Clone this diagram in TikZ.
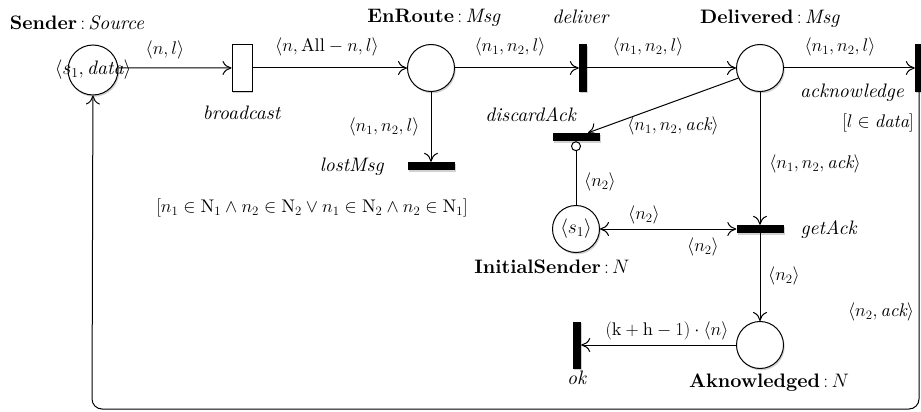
\RequirePackage{fix-cm}
\documentclass[tikz,border=0pt]{standalone}
\usepackage{amsmath,amssymb}
\usepackage{fontspec}
\setmainfont{lmroman10-regular.otf}[BoldFont=lmroman10-bold.otf,ItalicFont=lmroman10-italic.otf,BoldItalicFont=lmroman10-bolditalic.otf]
\usetikzlibrary{arrows.meta,shadows}
\begin{document}
\begin{tikzpicture}[x=1pt,y=-1pt,
  every node/.style={font=\fontsize{19.5}{23}\selectfont},
  shd/.style={drop shadow={shadow xshift=1.2pt,shadow yshift=-1.8pt,opacity=0.18,fill=black}},
  place/.style={circle,draw,line width=1pt,minimum size=47pt,inner sep=0pt,fill=white,shd},
  trans/.style={rectangle,fill=black,inner sep=0pt,shd},
  vbar/.style={trans,minimum width=8pt,minimum height=47pt},
  hbar/.style={trans,minimum width=47pt,minimum height=8pt},
  arc/.style={-{To[length=9pt,width=14pt]},line width=1pt},
  lbl/.style={inner sep=1pt},
  mlbl/.style={inner sep=1pt,font=\fontsize{18.3}{22}\selectfont}]
\useasboundingbox (0,0) rectangle (921,412);
% places
\node[place,minimum size=50pt] (S) at (93,70) {};
\node[lbl] at (S) {$\langle s_1, \mathit{data}\rangle$};
\node[lbl] (Slab) at (77,23) {\textbf{Sender}$\,{:}\,$\textit{Source}};
\node[place] (E) at (431,68) {};
\node[lbl] (Elab) at (434,18) {\textbf{EnRoute}$\,{:}\,$\textit{Msg}};
\node[place] (D) at (760,68) {};
\node[lbl] (Dlab) at (770,19) {\textbf{Delivered}$\,{:}\,$\textit{Msg}};
\node[place] (IS) at (576,229) {$\langle s_1\rangle$};
\node[lbl] (ISlab) at (552,267) {\textbf{InitialSender}$\,{:}\,N$};
\node[place] (A) at (760,345) {};
\node[lbl] (Alab) at (769,383) {\textbf{Aknowledged}$\,{:}\,N$};
% transitions
\node[rectangle,draw,line width=1pt,fill=white,minimum width=20pt,minimum height=47pt,inner sep=0pt,shd] (B) at (242,68) {};
\node[lbl] (Blab) at (242,113) {\textit{broadcast}};
\node[vbar] (dl) at (583,68) {};
\node[lbl] (dllab) at (581,17) {\textit{deliver}};
\node[vbar] (ack) at (919,68) {};
\node[lbl] (acklab) at (852,93) {\textit{acknowledge}};
\node[mlbl] (guard1) at (878,123) {$[l\in \mathit{data}]$};
\node[hbar] (lost) at (431,166) {};
\node[lbl] (lostlab) at (352,167) {\textit{lostMsg}};
\node[mlbl] (guard2) at (312,208) {$[n_1\in \mathrm{N}_1\wedge n_2\in \mathrm{N}_2\vee n_1\in \mathrm{N}_2\wedge n_2\in \mathrm{N}_1]$};
\node[hbar] (dA) at (576,137) {};
\node[lbl] (dAlab) at (531,115) {\textit{discardAck}};
\node[hbar] (gA) at (760,229) {};
\node[lbl] (gAlab) at (829,230) {\textit{getAck}};
\node[vbar] (ok) at (577,345) {};
\node[lbl] (oklab) at (577,378) {\textit{ok}};
\coordinate (c1) at (92,409);
% arcs
\draw[arc] (S.5) -- (B);
\node[mlbl] at (165,50) {$\langle n,l\rangle$};
\draw[arc] (B) -- (E);
\node[mlbl] at (327,47) {$\langle n,\mathrm{All}-n,l\rangle$};
\draw[arc] (E) -- (dl);
\node[mlbl] at (510,47) {$\langle n_1,n_2,l\rangle$};
\draw[arc] (dl) -- (D);
\node[mlbl] at (648,47) {$\langle n_1,n_2,l\rangle$};
\draw[arc] (D) -- (ack.west);
\node[mlbl] at (840,47) {$\langle n_1,n_2,l\rangle$};
\draw[arc] (E) -- (lost);
\node[mlbl] at (384,127) {$\langle n_1,n_2,l\rangle$};
\draw[arc] (D.205) -- ([xshift=12pt]dA.north);
\node[mlbl] at (673,126) {$\langle n_1,n_2,\mathit{ack}\rangle$};
\draw[{Circle[open,length=10pt,width=10pt]}-,line width=1pt] (dA.south) -- (IS);
\node[mlbl] at (600,182) {$\langle n_2\rangle$};
\draw[{To[length=9pt,width=14pt]}-{To[length=9pt,width=14pt]},line width=1pt] (IS) -- (gA.west);
\node[mlbl] at (644,215) {$\langle n_2\rangle$};
\node[mlbl] at (703,247) {$\langle n_2\rangle$};
\draw[arc] (D) -- (gA);
\node[mlbl] at (815,164) {$\langle n_1,n_2,\mathit{ack}\rangle$};
\draw[arc] (gA) -- (A);
\node[mlbl] at (784,276) {$\langle n_2\rangle$};
\draw[arc] (A) -- (ok);
\node[mlbl] at (667,331) {$(\mathrm{k}+\mathrm{h}-1)\cdot\langle n\rangle$};
\draw[arc,rounded corners=10pt] (ack.south) |- (c1) -- (S);
\node[mlbl] at (881,312) {$\langle n_2,\mathit{ack}\rangle$};
\end{tikzpicture}
\end{document}
